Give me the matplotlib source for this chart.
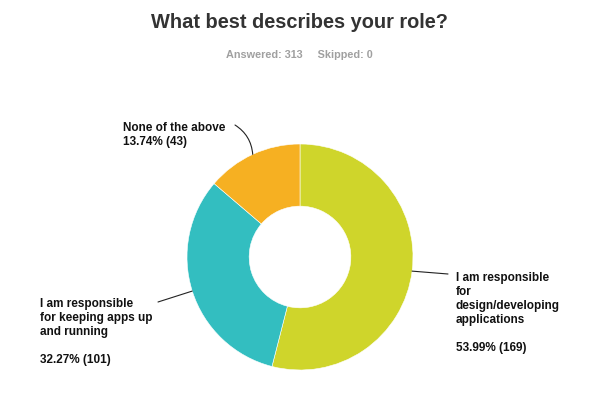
import numpy as np
import matplotlib.pyplot as plt

plt.rcParams.update({"font.family": "Liberation Sans"})

title = "What best describes your role?"
subtitle = "Answered: 313     Skipped: 0"
answers = [
    "I am responsible\nfor\ndesign/developing\napplications",
    "I am responsible\nfor keeping apps up\nand running",
    "None of the above",
]
percents = [53.99, 32.27, 13.74]
counts = [169, 101, 43]
colors = ["#cfd52b", "#33bec0", "#f6b022"]

W, H = 598, 399
fig = plt.figure(figsize=(W / 100, H / 100), dpi=100)
ax = fig.add_axes([0, 0, 1, 1])

cx, cy, r = 300, H - 257, 113
wedges, _ = ax.pie(
    percents,
    colors=colors,
    startangle=90,
    counterclock=False,
    radius=r,
    center=(cx, cy),
    wedgeprops=dict(width=r * 0.55, linewidth=0.4, edgecolor="white"),
    frame=True,
)
ax.set_xlim(0, W)
ax.set_ylim(0, H)
ax.axis("off")

ax.text(W / 2, H - 23, title, ha="center", va="center",
        fontsize=14.4, fontweight="bold", color="#333333")
ax.text(W / 2, H - 55, subtitle, ha="center", va="center",
        fontsize=7.8, fontweight="bold", color="#a0a0a0")

# leader line ends and label positions (pixel coords from top)
line_ends = [(448, 274), (158, 302), (235, 125)]
label_pos = [(456, 272), (40, 298), (123, 122)]
rads = [0, 0, -0.25]

for w, ans, p, c, le, lp, rad in zip(wedges, answers, percents, counts,
                                      line_ends, label_pos, rads):
    ang = np.deg2rad((w.theta1 + w.theta2) / 2)
    anchor = (cx + r * np.cos(ang), cy + r * np.sin(ang))
    ax.annotate("", xy=anchor, xytext=(le[0], H - le[1]),
                arrowprops=dict(arrowstyle="-", color="#222222", lw=0.8,
                                shrinkA=0, shrinkB=0,
                                connectionstyle=f"arc3,rad={rad}"))
    if "\n" in ans:
        txt = f"{ans}\n\n{p:.2f}% ({c})"
    else:
        txt = f"{ans}\n{p:.2f}% ({c})"
    ax.text(lp[0], H - lp[1], txt, ha="left", va="top", fontsize=8.5,
            fontweight="bold", color="#111111", linespacing=1.23)

fig.savefig("out.png", dpi=100, facecolor="white")
